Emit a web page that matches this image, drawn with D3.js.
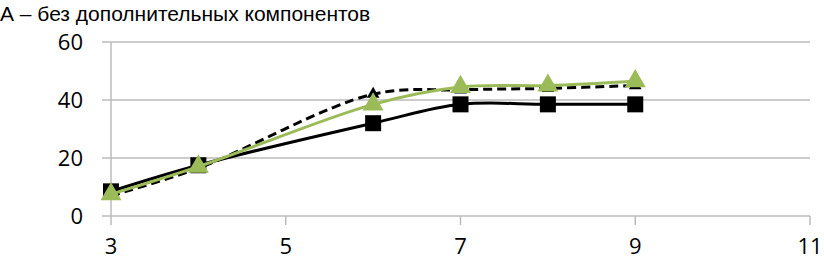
<!DOCTYPE html>
<html><head><meta charset="utf-8">
<script src="https://cdn.jsdelivr.net/npm/d3@7"></script>
<style>body{margin:0;background:#fff}svg{display:block}</style>
</head><body>
<script>
const title = "А – без дополнительных компонентов";
const xValues = [3, 4, 6, 7, 8, 9];
const seriesSolid = [8.5, 17.5, 32, 38.5, 38.5, 38.5];
const seriesDashed = [7, 16.5, 42, 43.5, 44, 45];
const seriesGreen = [7.5, 17, 38.5, 44.5, 45, 46.5];
const xTicks = [3, 5, 7, 9, 11];
const yTicks = [0, 20, 40, 60];

const W = 824, H = 264;
const svg = d3.select("body").append("svg").attr("width", W).attr("height", H);
const x = d3.scaleLinear().domain([3, 11]).range([111, 810]);
const y = d3.scaleLinear().domain([0, 60]).range([216, 42]);

svg.append("text").attr("x", 0).attr("y", 21).text(title)
  .attr("font-family", "'Liberation Sans Narrow','Liberation Sans',Arial,sans-serif")
  .attr("font-size", 21).attr("fill", "#000");

// grid
const gy = svg.append("g");
gy.selectAll("line").data(yTicks).join("line")
  .attr("x1", 102).attr("x2", 810)
  .attr("y1", d => y(d)).attr("y2", d => y(d))
  .attr("stroke", "#bbbbbb").attr("stroke-width", 1.5);
gy.selectAll("text").data(yTicks).join("text")
  .attr("x", 83).attr("y", d => y(d) + 8).attr("text-anchor", "end")
  .attr("font-family", "'Open Sans',sans-serif").attr("font-size", 22).text(d => d);
// y axis line
svg.append("line").attr("x1", x(3)).attr("x2", x(3)).attr("y1", y(60)).attr("y2", y(0))
  .attr("stroke", "#bbbbbb").attr("stroke-width", 1.5);
// x ticks
const gx = svg.append("g");
gx.selectAll("line").data(xTicks).join("line")
  .attr("x1", d => x(d)).attr("x2", d => x(d)).attr("y1", y(0)).attr("y2", y(0) + 9)
  .attr("stroke", "#bbbbbb").attr("stroke-width", 1.5);
gx.selectAll("text").data(xTicks).join("text")
  .attr("x", d => x(d)).attr("y", 254).attr("text-anchor", "middle")
  .attr("font-family", "'Open Sans',sans-serif").attr("font-size", 22).text(d => d);

const line = d3.line().x(d => x(d[0])).y(d => y(d[1])).curve(d3.curveCatmullRom.alpha(0.5));
const pts = s => xValues.map((v, i) => [v, s[i]]);

svg.append("path").attr("d", line(pts(seriesSolid))).attr("fill", "none")
  .attr("stroke", "#000").attr("stroke-width", 3);
svg.append("path").attr("d", line(pts(seriesDashed))).attr("fill", "none")
  .attr("stroke", "#000").attr("stroke-width", 3).attr("stroke-dasharray", "9,5");

// square markers
svg.append("g").selectAll("rect").data(pts(seriesSolid)).join("rect")
  .attr("x", d => x(d[0]) - 8).attr("y", d => y(d[1]) - 8)
  .attr("width", 16).attr("height", 16).attr("fill", "#000");
// dashed markers (small triangles)
const triSmall = d3.symbol().type(d3.symbolTriangle).size(70);
svg.append("g").selectAll("path").data(pts(seriesDashed)).join("path")
  .attr("transform", d => `translate(${x(d[0])},${y(d[1])})`)
  .attr("d", triSmall).attr("fill", "#000");

svg.append("path").attr("d", line(pts(seriesGreen))).attr("fill", "none")
  .attr("stroke", "#9bbb59").attr("stroke-width", 3);
const tri = d3.symbol().type(d3.symbolTriangle).size(190);
svg.append("g").selectAll("path").data(pts(seriesGreen)).join("path")
  .attr("transform", d => `translate(${x(d[0])},${y(d[1])})`)
  .attr("d", tri).attr("fill", "#9bbb59");
</script>
</body></html>
